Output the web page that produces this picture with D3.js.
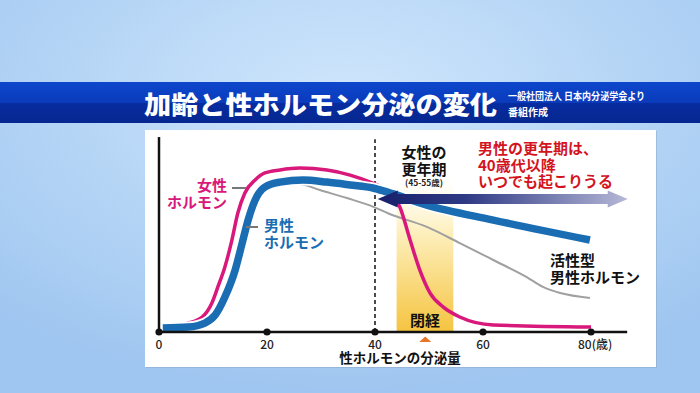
<!DOCTYPE html>
<html><head><meta charset="utf-8">
<script src="https://cdn.jsdelivr.net/npm/d3@7"></script>
<style>
html,body{margin:0;padding:0;background:#b5d5f6;}
svg{display:block;}
text{font-family:"Noto Sans CJK JP","Noto Sans",sans-serif;}
</style></head>
<body>
<svg id="chart" width="700" height="393"></svg>
<script>
// ---- data ----
const xTicks = [0, 20, 40, 60, 80];
const xTickLabels = ["0", "20", "40", "60", "80(歳)"];
const femaleAge = [1, 5.4, 8.0, 9.8, 10.9, 12.2, 13.5, 14.6, 15.9, 17.8, 19.6, 22.4, 26.1, 31.1, 35.4, 39.1, 41.5, 43.3, 44.6, 46.5, 48.3, 50.2, 52.6, 55.7, 61.9, 80];
const femaleVal = [2.5, 4.7, 7.9, 15.3, 23.7, 34.2, 48.4, 62.6, 73.2, 80, 83.7, 85.3, 86.3, 85.3, 82.6, 78.9, 75.8, 72.1, 65.8, 48.4, 32.6, 20.5, 13.2, 7.9, 3.7, 2.6];
const maleAge = [0.7, 5.4, 8.5, 10.4, 12.2, 14.1, 15.4, 16.5, 17.8, 19.6, 22.4, 26.7, 31.1, 35.4, 39.6, 42.2, 49.6, 61.9, 79.8];
const maleVal = [2.1, 2.6, 4.7, 8.9, 18.4, 32.6, 46.8, 58.9, 69.5, 76.3, 78.9, 80, 78.9, 77.4, 75.8, 73.7, 66.8, 58.9, 48.4];
const activeAge = [22.4, 26, 29.8, 34.8, 39.6, 42.4, 49.6, 55.7, 61.9, 68.1, 71.1, 74.3, 79.8];
const activeVal = [78.5, 78, 74.7, 70.5, 66, 62.5, 55.3, 46.8, 37.9, 28.9, 23.7, 20.5, 17.9];
const menopauseBand = [44, 54.5];
const menopauseAge = 49.3;
const arrowSpan = [40.5, 86.8];
const arrowLevel = 70;
const dashedAge = 40;
const axisEnd = 86.7;
const yTop = 102.6;

const title = "加齢と性ホルモン分泌の変化";
const subtitle1 = "一般社団法人 日本内分泌学会より";
const subtitle2 = "番組作成";
const femaleLabel = ["女性", "ホルモン"];
const maleLabel = ["男性", "ホルモン"];
const climLabel = ["女性の", "更年期"];
const climRange = "(45-55歳)";
const maleClimLabel = ["男性の更年期は、", "40歳代以降", "いつでも起こりうる"];
const activeLabel = ["活性型", "男性ホルモン"];
const menoLabel = "閉経";
const xAxisTitle = "性ホルモンの分泌量";

// ---- drawing ----
const svg = d3.select("#chart");
const defs = svg.append("defs");

const bg = defs.append("radialGradient").attr("id", "bg").attr("cx", "50%").attr("cy", "25%").attr("r", "75%");
bg.append("stop").attr("offset", "0%").attr("stop-color", "#cfe6fc");
bg.append("stop").attr("offset", "100%").attr("stop-color", "#9fc6f0");
svg.append("rect").attr("width", 700).attr("height", 393).attr("fill", "url(#bg)");

const bn = defs.append("linearGradient").attr("id", "banner").attr("x1", 0).attr("x2", 0).attr("y1", 0).attr("y2", 1);
bn.append("stop").attr("offset", "0%").attr("stop-color", "#0e47cc");
bn.append("stop").attr("offset", "50%").attr("stop-color", "#0a3bbb");
bn.append("stop").attr("offset", "52%").attr("stop-color", "#072c9f");
bn.append("stop").attr("offset", "100%").attr("stop-color", "#06278f");
svg.append("rect").attr("x", 0).attr("y", 82).attr("width", 700).attr("height", 41).attr("fill", "url(#banner)");

svg.append("text").attr("x", 144).attr("y", 114).attr("fill", "#fff")
  .attr("font-size", 25).attr("font-weight", 900)
  .attr("textLength", 353).attr("lengthAdjust", "spacingAndGlyphs").text(title);
svg.append("text").attr("x", 508).attr("y", 99.5).attr("fill", "#fff")
  .attr("font-size", 10).attr("font-weight", 700)
  .attr("textLength", 137).attr("lengthAdjust", "spacingAndGlyphs").text(subtitle1);
svg.append("text").attr("x", 508).attr("y", 115.5).attr("fill", "#fff")
  .attr("font-size", 10).attr("font-weight", 700).text(subtitle2);

// panel
svg.append("rect").attr("x", 146).attr("y", 131).attr("width", 511).attr("height", 237).attr("fill", "#8aa6c4").attr("opacity", 0.5);
svg.append("rect").attr("x", 145).attr("y", 130).attr("width", 511).attr("height", 237).attr("fill", "#fff");

const x = d3.scaleLinear().domain([0, 80]).range([159, 591]);
const y = d3.scaleLinear().domain([0, 100]).range([332, 142]);

// menopause band
const band = defs.append("linearGradient").attr("id", "band").attr("x1", 0).attr("x2", 0).attr("y1", 0).attr("y2", 1);
band.append("stop").attr("offset", "0%").attr("stop-color", "#fff8e0").attr("stop-opacity", 0);
band.append("stop").attr("offset", "35%").attr("stop-color", "#fdf0bf");
band.append("stop").attr("offset", "100%").attr("stop-color", "#f5c440");
svg.append("rect").attr("x", x(menopauseBand[0])).attr("width", x(menopauseBand[1]) - x(menopauseBand[0]))
  .attr("y", y(82)).attr("height", y(0) - y(82)).attr("fill", "url(#band)");

// dashed line
svg.append("line").attr("x1", x(dashedAge)).attr("x2", x(dashedAge)).attr("y1", y(0)).attr("y2", y(101.5))
  .attr("stroke", "#111").attr("stroke-width", 1.5).attr("stroke-dasharray", "4,3");

const line = d3.line().x(d => x(d[0])).y(d => y(d[1])).curve(d3.curveMonotoneX);
const zip = (a, b) => a.map((v, i) => [v, b[i]]);

// active male hormone (gray)
svg.append("path").attr("d", line(zip(activeAge, activeVal))).attr("fill", "none")
  .attr("stroke", "#a0a0a0").attr("stroke-width", 2);
// female (pink)
svg.append("path").attr("d", line(zip(femaleAge, femaleVal))).attr("fill", "none")
  .attr("stroke", "#d8187a").attr("stroke-width", 3.5).attr("stroke-linejoin", "round");
// male (blue) with white halo
const maleD = line(zip(maleAge, maleVal));
svg.append("path").attr("d", maleD).attr("fill", "none").attr("stroke", "#fff").attr("stroke-width", 11);
svg.append("path").attr("d", maleD).attr("fill", "none").attr("stroke", "#1a6db3").attr("stroke-width", 7.5);

// axes
svg.append("line").attr("x1", x(0)).attr("x2", x(0)).attr("y1", y(0)).attr("y2", y(yTop)).attr("stroke", "#111").attr("stroke-width", 2.5);
svg.append("line").attr("x1", x(0)).attr("x2", x(axisEnd)).attr("y1", y(0)).attr("y2", y(0)).attr("stroke", "#111").attr("stroke-width", 2.5);
svg.selectAll("circle.tick").data(xTicks).enter().append("circle")
  .attr("cx", d => x(d)).attr("cy", y(0)).attr("r", 3.6).attr("fill", "#111");
svg.selectAll("text.tick").data(xTicks).enter().append("text")
  .attr("x", d => x(d)).attr("y", 348.5).attr("font-size", 12).attr("font-weight", 500).attr("fill", "#222")
  .attr("text-anchor", (d, i) => i === xTicks.length - 1 ? "start" : "middle")
  .attr("dx", (d, i) => i === xTicks.length - 1 ? -13 : 0)
  .text((d, i) => xTickLabels[i]);
svg.append("text").attr("x", 400).attr("y", 363).attr("text-anchor", "middle")
  .attr("font-size", 13.5).attr("font-weight", 700).attr("fill", "#111").text(xAxisTitle);

// menopause marker
const mx = x(menopauseAge);
svg.append("path").attr("d", `M${mx - 6},342 L${mx + 6},342 L${mx},336.5 Z`).attr("fill", "#e8742a");
svg.append("text").attr("x", 425).attr("y", 326).attr("text-anchor", "middle")
  .attr("font-size", 15).attr("font-weight", 700).attr("fill", "#111").text(menoLabel);

// arrow
const ag = defs.append("linearGradient").attr("id", "arrow").attr("gradientUnits", "userSpaceOnUse")
  .attr("x1", x(arrowSpan[0])).attr("x2", x(arrowSpan[1])).attr("y1", 0).attr("y2", 0);
ag.append("stop").attr("offset", "0%").attr("stop-color", "#17206a");
ag.append("stop").attr("offset", "35%").attr("stop-color", "#2f3a85");
ag.append("stop").attr("offset", "100%").attr("stop-color", "#b6b8d6");
const ax0 = x(arrowSpan[0]), ax1 = x(arrowSpan[1]), ay = y(arrowLevel);
const hl = 20, hh = 8.5, sh = 5;
svg.append("path").attr("fill", "url(#arrow)").attr("d",
  `M${ax0},${ay} L${ax0 + hl},${ay - hh} L${ax0 + hl},${ay - sh} L${ax1 - hl},${ay - sh} L${ax1 - hl},${ay - hh} L${ax1},${ay} L${ax1 - hl},${ay + hh} L${ax1 - hl},${ay + sh} L${ax0 + hl},${ay + sh} L${ax0 + hl},${ay + hh} Z`);

// labels
function multi(lines, xPos, y0, dy, opts) {
  const t = svg.append("text").attr("font-size", opts.size).attr("font-weight", 700)
    .attr("fill", opts.color).attr("text-anchor", opts.anchor || "start");
  lines.forEach((l, i) => t.append("tspan").attr("x", xPos).attr("y", y0 + i * dy).text(l));
}
multi(femaleLabel, 227, 191, 17, {size: 15, color: "#d8187a", anchor: "end"});
svg.append("line").attr("x1", 232).attr("x2", 246).attr("y1", 188).attr("y2", 188).attr("stroke", "#777").attr("stroke-width", 2);
multi(maleLabel, 264, 231, 17, {size: 15, color: "#1a6db3"});
svg.append("line").attr("x1", 246).attr("x2", 258).attr("y1", 227).attr("y2", 227).attr("stroke", "#777").attr("stroke-width", 2);
multi(climLabel, 424, 158, 16.5, {size: 15, color: "#111", anchor: "middle"});
svg.append("text").attr("x", 424).attr("y", 185.5).attr("text-anchor", "middle").attr("font-size", 8.5)
  .attr("font-weight", 700).attr("fill", "#222").text(climRange);
multi(maleClimLabel, 478, 154, 16.5, {size: 15, color: "#d3141e"});
multi(activeLabel, 550, 266, 17, {size: 15, color: "#111"});
</script>
</body></html>
